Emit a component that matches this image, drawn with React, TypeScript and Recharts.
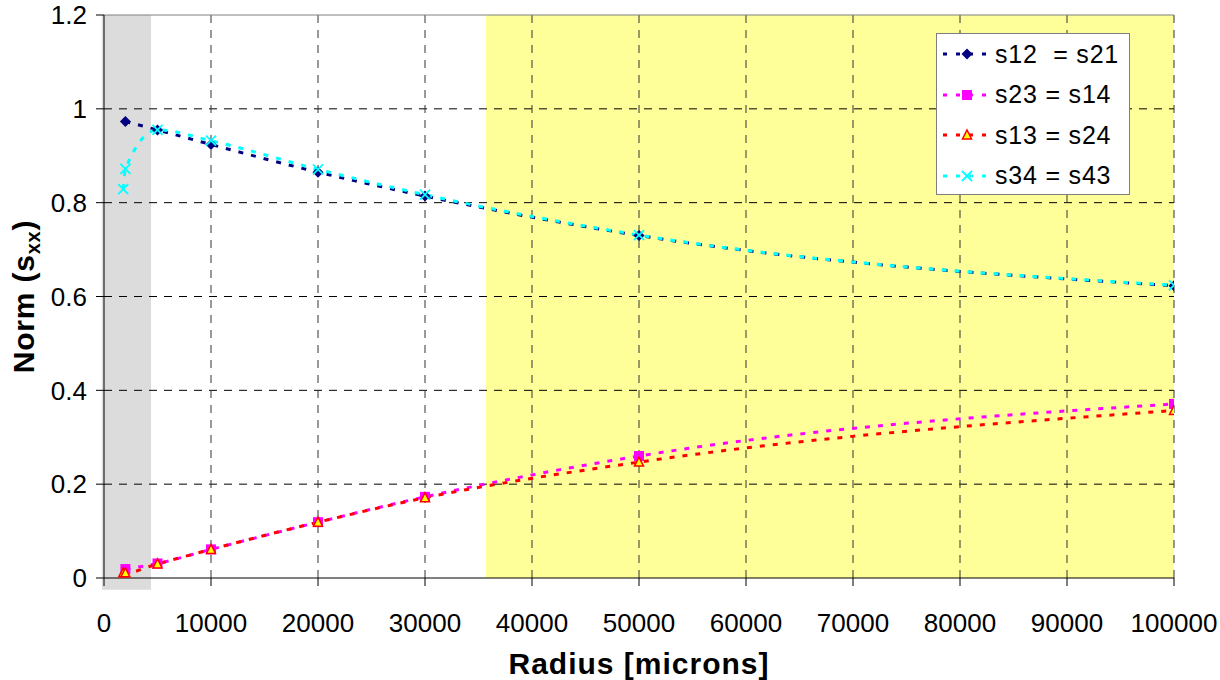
import React from "react";
import { LineChart, Line, XAxis, YAxis, ReferenceArea, ReferenceLine, Legend } from "recharts";

const FONT = "'Liberation Sans', Arial, sans-serif";

// tick values
const xTicks = [0, 10000, 20000, 30000, 40000, 50000, 60000, 70000, 80000, 90000, 100000];
const yTicks = [0, 0.2, 0.4, 0.6, 0.8, 1, 1.2];

// radius sample points [microns]
const radii = [2000, 5000, 10000, 20000, 30000, 50000, 100000];
const radiiFine = [1800, 2000, 5000, 10000, 20000, 30000, 50000, 100000];

// norm values
const s12Values = [0.973, 0.955, 0.924, 0.865, 0.814, 0.73, 0.623];
const s23Values = [0.019, 0.031, 0.061, 0.119, 0.173, 0.26, 0.371];
const s13Values = [0.011, 0.011, 0.03, 0.061, 0.119, 0.171, 0.247, 0.357];
const s34Values = [0.829, 0.872, 0.955, 0.932, 0.871, 0.817, 0.731, 0.624];

// shaded regions
const greyBand = [-200, 4400];
const yellowBand = [35700, 100000];

const zip = (xs: number[], vs: number[]) => xs.map((r, i) => ({ r, v: vs[i] }));

const Diamond = ({ cx, cy, color = "#000080" }: any) => (
  <polygon points={`${cx},${cy - 5.5} ${cx + 5.5},${cy} ${cx},${cy + 5.5} ${cx - 5.5},${cy}`} fill={color} />
);
const Square = ({ cx, cy, color = "#ff00ff" }: any) => (
  <rect x={cx - 5} y={cy - 5} width={10} height={10} fill={color} />
);
const Triangle = ({ cx, cy }: any) => (
  <polygon points={`${cx},${cy - 5} ${cx + 4.5},${cy + 4} ${cx - 4.5},${cy + 4}`}
    fill="#ffff00" stroke="#ff0000" strokeWidth={1.5} />
);
const Cross = ({ cx, cy, color = "#00ffff" }: any) => (
  <g stroke={color} strokeWidth={1.8}>
    <line x1={cx - 5} y1={cy - 5} x2={cx + 5} y2={cy + 5} />
    <line x1={cx - 5} y1={cy + 5} x2={cx + 5} y2={cy - 5} />
  </g>
);

const series = [
  { key: "s12", name: "s12  = s21", color: "#000080", data: zip(radii, s12Values), Marker: Diamond },
  { key: "s23", name: "s23 = s14", color: "#ff00ff", data: zip(radii, s23Values), Marker: Square },
  { key: "s13", name: "s13 = s24", color: "#ff0000", data: zip(radiiFine, s13Values), Marker: Triangle },
  { key: "s34", name: "s34 = s43", color: "#00ffff", data: zip(radiiFine, s34Values), Marker: Cross },
];

const DASH = "5 8";

const LegendBox = () => (
  <div style={{
    width: 194, height: 162, boxSizing: "border-box", background: "#fff",
    border: "1.5px solid #7f7f7f", fontFamily: FONT, fontSize: 25, color: "#000",
    letterSpacing: 0.8,
  }}>
    {series.map(({ key, name, color, Marker }) => (
      <div key={key} style={{ display: "flex", alignItems: "center", height: 40.5 }}>
        <svg width={58} height={20} style={{ flex: "none" }}>
          <line x1={6} x2={52} y1={10} y2={10} stroke={color} strokeWidth={3} strokeDasharray="4 9" />
          <Marker cx={30} cy={10} />
        </svg>
        <span style={{ whiteSpace: "pre" }}>{name}</span>
      </div>
    ))}
  </div>
);

const XTitle = ({ viewBox }: any) => {
  const cx = viewBox ? viewBox.x + viewBox.width / 2 : 639;
  return (
    <text x={cx} y={674} textAnchor="middle" fontFamily={FONT} fontSize={30} fontWeight="bold" fill="#000"
      letterSpacing={1}>
      Radius [microns]
    </text>
  );
};

const YTitle = ({ viewBox }: any) => {
  const cy = viewBox ? viewBox.y + viewBox.height / 2 : 296;
  const x = 34;
  return (
    <text x={x} y={cy} transform={`rotate(-90, ${x}, ${cy})`} textAnchor="middle"
      fontFamily={FONT} fontSize={30} fontWeight="bold" fill="#000" letterSpacing={0.8}>
      Norm (s<tspan fontSize={20} dy={6}>xx</tspan><tspan dy={-6}>)</tspan>
    </text>
  );
};

export default function App() {
  return (
    <div style={{ position: "absolute", left: 0, top: 0, background: "#fff" }}>
      <LineChart width={1220} height={680} margin={{ top: 15, right: 46, bottom: 0, left: 0 }}>
        <ReferenceArea x1={greyBand[0]} x2={greyBand[1]} y1={-0.025} y2={1.2} fill="#dcdcdc" fillOpacity={1}
          stroke="none" ifOverflow="visible" />
        <ReferenceArea x1={yellowBand[0]} x2={yellowBand[1]} y1={0} y2={1.2} fill="#ffff99" fillOpacity={1}
          stroke="none" ifOverflow="visible" />
        {/* grid drawn over the bands */}
        {yTicks.slice(1, -1).map(t => (
          <ReferenceLine key={`h${t}`} y={t} stroke="#000" strokeDasharray="8 7" />
        ))}
        {xTicks.slice(1).map(t => (
          <ReferenceLine key={`v${t}`} x={t} stroke="#333" strokeDasharray="8 7" />
        ))}
        <ReferenceLine y={1.2} stroke="#808080" />
        <XAxis
          type="number"
          dataKey="r"
          domain={[0, 100000]}
          ticks={xTicks}
          allowDataOverflow
          height={102}
          tick={{ fill: "#000", fontSize: 26, fontFamily: FONT }}
          tickSize={8}
          tickMargin={28}
          axisLine={{ stroke: "#000" }}
          tickLine={{ stroke: "#000" }}
          label={<XTitle />}
        />
        <YAxis
          type="number"
          dataKey="v"
          domain={[0, 1.2]}
          ticks={yTicks}
          width={104}
          tick={{ fill: "#000", fontSize: 26, fontFamily: FONT }}
          tickSize={8}
          tickMargin={9}
          axisLine={{ stroke: "#000" }}
          tickLine={{ stroke: "#000" }}
          label={<YTitle />}
        />
        {series.map(({ key, color, data, Marker }) => (
          <Line
            key={key}
            data={data}
            dataKey="v"
            name={key}
            type="monotone"
            stroke={color}
            strokeWidth={3}
            strokeDasharray={DASH}
            dot={(p: any) => <Marker key={`${key}-${p.index}`} cx={p.cx} cy={p.cy} />}
            activeDot={false}
            isAnimationActive={false}
          />
        ))}
        <Legend
          layout="vertical"
          align="center"
          verticalAlign="middle"
          wrapperStyle={{ left: 936, top: 33, width: 194, height: 162 }}
          content={<LegendBox />}
        />
      </LineChart>
    </div>
  );
}
